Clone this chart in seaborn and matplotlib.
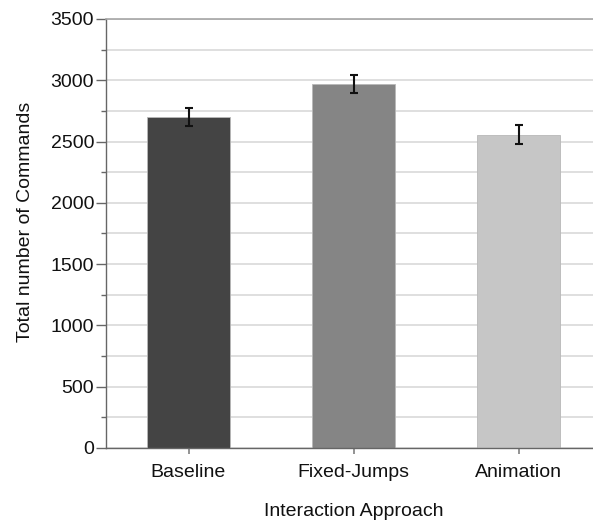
import matplotlib
matplotlib.use("Agg")
import matplotlib.pyplot as plt
import seaborn as sns
import numpy as np
from matplotlib.ticker import MultipleLocator

# Mean command counts per interaction approach, with error-bar half widths
approaches = ["Baseline", "Fixed-Jumps", "Animation"]
total_commands = [2700, 2970, 2555]
command_error = [75, 70, 78]
bar_colors = ["#444444", "#858585", "#c6c6c6"]

sns.set_theme(style="white")
plt.rcParams["font.family"] = ["Liberation Sans", "DejaVu Sans"]

fig = plt.figure(figsize=(5.93, 5.22), dpi=100)
ax = fig.add_axes([106 / 593, 74 / 522, 495 / 593, 429 / 522])

sns.barplot(x=approaches, y=total_commands, hue=approaches, palette=bar_colors,
            width=0.5, errorbar=None, legend=False, saturation=1, ax=ax, zorder=2,
            edgecolor="#b8b8b8", linewidth=0.6)

ax.errorbar(np.arange(len(approaches)), total_commands, yerr=command_error,
            fmt="none", ecolor="#111111", elinewidth=1.5, capsize=3, capthick=1.5,
            zorder=3)

ax.set_xlim(-0.5, 2.5)
ax.set_ylim(0, 3500)
ax.yaxis.set_major_locator(MultipleLocator(500))
ax.yaxis.set_minor_locator(MultipleLocator(250))

ax.grid(True, which="both", axis="y", color="#d9d9d9", linewidth=1.2, zorder=0)
ax.set_axisbelow(True)

for side in ("left", "bottom"):
    ax.spines[side].set_color("#666666")
    ax.spines[side].set_linewidth(1.0)
ax.spines["top"].set_color("#a6a6a6")
ax.spines["top"].set_linewidth(1.2)
ax.spines["right"].set_visible(False)

ax.tick_params(axis="y", which="major", direction="out", length=7, width=1,
               color="#666666", pad=1.5, labelsize=14, left=True)
ax.tick_params(axis="y", which="minor", direction="out", length=3.5, width=1,
               color="#666666", left=True)
ax.tick_params(axis="x", which="major", direction="out", length=4.5, width=1.2,
               color="#808080", pad=7, labelsize=14, bottom=True)

ax.set_xlabel("Interaction Approach", fontsize=14, labelpad=16, color="#111111")
ax.set_ylabel("Total number of Commands", fontsize=14, color="#111111")
ax.yaxis.set_label_coords(-0.145, 0.526)
for lbl in ax.get_xticklabels() + ax.get_yticklabels():
    lbl.set_color("#111111")

fig.savefig("out.png", dpi=100)
